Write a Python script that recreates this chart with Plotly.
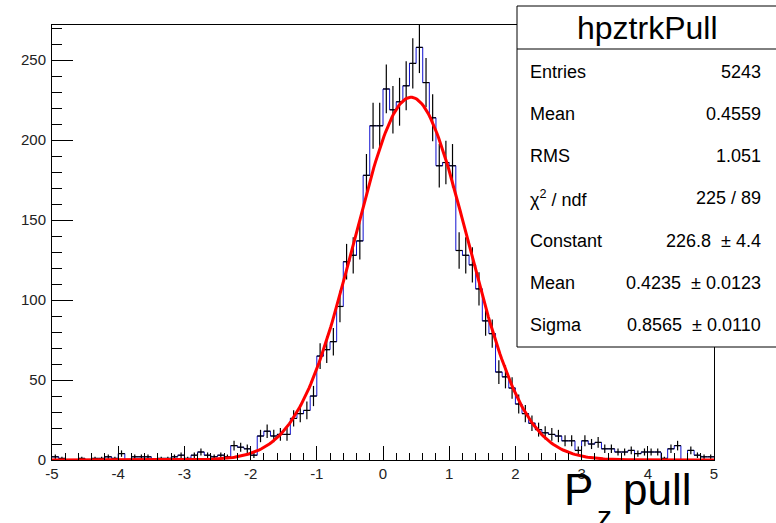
import numpy as np
import plotly.graph_objects as go

# Histogram hpztrkPull: 100 bins of width 0.1 on [-5, 5]
bin_low = -5.0
bin_width = 0.1
counts = [
    2, 1, 0, 0, 1, 0, 1, 1, 2, 1,
    4, 0, 2, 2, 2, 0, 1, 1, 2, 3,
    1, 3, 5, 3, 2, 3, 2, 9, 8, 7,
    3, 15, 18, 15, 16, 16, 26, 29, 31, 40,
    65, 69, 74, 96, 124, 128, 137, 178, 209, 209,
    232, 219, 224, 234, 248, 258, 236, 214, 184, 186,
    184, 131, 128, 122, 107, 87, 79, 55, 52, 45,
    35, 29, 23, 19, 17, 16, 15, 12, 12, 6,
    12, 10, 11, 7, 7, 5, 5, 6, 4, 5,
    5, 5, 1, 7, 9, 0, 6, 3, 2, 2,
]

# Gaussian fit results
fit_constant = 226.8
fit_mean = 0.4235
fit_sigma = 0.8565

# Statistics box rows
stat_title = "hpztrkPull"
stat_labels = ["Entries", "Mean", "RMS", "χ<sup>2</sup> / ndf", "Constant", "Mean", "Sigma"]
stat_values = ["5243", "0.4559", "1.051", "225 / 89", "226.8  ± 4.4", "0.4235  ± 0.0123", "0.8565  ± 0.0110"]

x_ticks = [-5, -4, -3, -2, -1, 0, 1, 2, 3, 4, 5]
y_ticks = [0, 50, 100, 150, 200, 250]

n_bins = len(counts)
edges = bin_low + bin_width * np.arange(n_bins + 1)
centers = edges[:-1] + bin_width / 2
vals = np.array(counts, dtype=float)

FONT = "Liberation Sans"
W, H = 776, 523
ML, MR, MT, MB = 52, 62, 25, 63
PW, PH = W - ML - MR, H - MT - MB


def px(xp):
    return (xp - ML) / PW


def py(yp):
    return (H - MB - yp) / PH


fig = go.Figure()

# blue outline of the histogram
fig.add_trace(go.Scatter(
    x=edges, y=np.append(vals, vals[-1]),
    mode="lines", line=dict(color="#1010d0", width=1, shape="hv"),
    hoverinfo="skip", showlegend=False,
))

# black error crosses (skip empty bins)
err_y = [v if v > 0 else None for v in counts]
fig.add_trace(go.Scatter(
    x=centers, y=err_y, mode="markers",
    marker=dict(size=1, color="black"),
    error_y=dict(type="data", array=np.sqrt(vals), color="black", thickness=1.2, width=0),
    error_x=dict(type="data", array=[bin_width / 2] * n_bins, color="black", thickness=1.2, width=0),
    hoverinfo="skip", showlegend=False,
))

# fitted gaussian
xf = np.linspace(edges[0], edges[-1], 400)
yf = fit_constant * np.exp(-0.5 * ((xf - fit_mean) / fit_sigma) ** 2)
fig.add_trace(go.Scatter(
    x=xf, y=yf, mode="lines", line=dict(color="#ff0000", width=3),
    hoverinfo="skip", showlegend=False,
))

axis_common = dict(
    showgrid=False, zeroline=False, showline=True, mirror=True,
    linecolor="black", linewidth=1, ticks="inside", tickcolor="black", tickwidth=1,
    tickfont=dict(family=FONT, size=15, color="#222222"),
)

fig.update_xaxes(
    range=[edges[0], edges[-1]], tickvals=x_ticks, ticktext=[str(t) for t in x_ticks],
    ticklen=14,
    minor=dict(dtick=0.2, ticklen=7, ticks="inside", tickcolor="black", tickwidth=1, showgrid=False),
    **axis_common,
)
fig.update_yaxes(
    range=[0, 272], tickvals=y_ticks, ticktext=[str(t) for t in y_ticks],
    ticklen=21, ticklabelstandoff=2,
    minor=dict(dtick=10, ticklen=10, ticks="inside", tickcolor="black", tickwidth=1, showgrid=False),
    **axis_common,
)

# statistics box
box_l, box_r, box_t, box_b, box_div = 517, 777, 6, 347, 49
shapes = [
    dict(type="rect", xref="paper", yref="paper", x0=px(box_l), x1=px(box_r), y0=py(box_b), y1=py(box_t),
         line=dict(color="black", width=1), fillcolor="white", layer="above"),
    dict(type="line", xref="paper", yref="paper", x0=px(box_l), x1=px(box_r), y0=py(box_div), y1=py(box_div),
         line=dict(color="black", width=1), layer="above"),
]

annotations = [
    dict(text=stat_title, xref="paper", yref="paper", x=px(647), y=py(27.5), xanchor="center", yanchor="middle",
         showarrow=False, font=dict(family=FONT, size=32, color="black")),
]
row_y0, row_dy = 71.5, 42.3
for i, (lab, val) in enumerate(zip(stat_labels, stat_values)):
    yc = row_y0 + i * row_dy
    annotations.append(dict(text=lab, xref="paper", yref="paper", x=px(528), y=py(yc), xanchor="left",
                            yanchor="middle", showarrow=False, font=dict(family=FONT, size=18, color="black")))
    annotations.append(dict(text=val, xref="paper", yref="paper", x=px(763), y=py(yc), xanchor="right",
                            yanchor="middle", showarrow=False, font=dict(family=FONT, size=18, color="black")))

# x-axis title P_z pull
annotations.append(dict(text="P", xref="paper", yref="paper", x=px(562), y=py(490), xanchor="left",
                        yanchor="middle", showarrow=False, font=dict(family=FONT, size=44, color="black")))
annotations.append(dict(text="z", xref="paper", yref="paper", x=px(595), y=py(516), xanchor="left",
                        yanchor="middle", showarrow=False, font=dict(family=FONT, size=30, color="black")))
annotations.append(dict(text="pull", xref="paper", yref="paper", x=px(621), y=py(490), xanchor="left",
                        yanchor="middle", showarrow=False, font=dict(family=FONT, size=44, color="black")))

fig.update_layout(
    width=W, height=H, margin=dict(l=ML, r=MR, t=MT, b=MB),
    paper_bgcolor="white", plot_bgcolor="white",
    shapes=shapes, annotations=annotations,
)

fig.write_html("out.html")
